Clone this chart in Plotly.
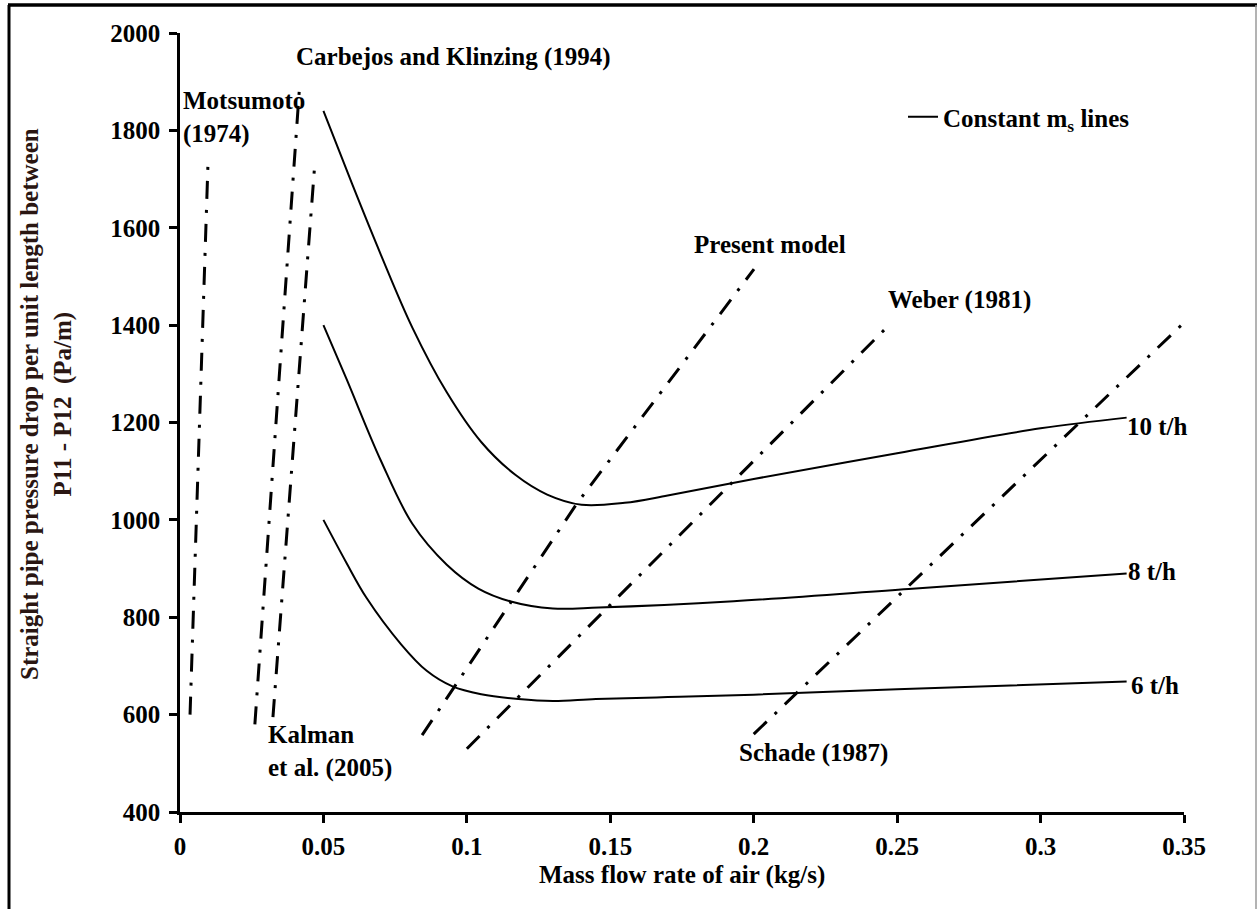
import plotly.graph_objects as go

# Constant solids-flow lines (mass flow rate of air in kg/s, pressure drop in Pa/m)
x_10th = [0.05, 0.06, 0.07, 0.081, 0.093, 0.105, 0.117, 0.128, 0.14, 0.155, 0.17, 0.2, 0.25, 0.3, 0.33]
y_10th = [1840, 1690, 1545, 1395, 1262, 1160, 1092, 1052, 1031, 1035, 1050, 1084, 1137, 1188, 1210]

x_8th = [0.05, 0.058, 0.07, 0.081, 0.093, 0.104, 0.115, 0.13, 0.146, 0.193, 0.254, 0.33]
y_8th = [1400, 1290, 1122, 992, 908, 859, 833, 818, 820, 833, 858, 890]

x_6th = [0.05, 0.058, 0.065, 0.077, 0.086, 0.095, 0.105, 0.118, 0.13, 0.145, 0.17, 0.2, 0.25, 0.33]
y_6th = [1000, 912, 840, 745, 690, 658, 642, 632, 628, 632, 636, 641, 652, 668]

# Minimum-pressure (saltation) boundaries from different models
x_motsumoto = [0.0035, 0.0098]
y_motsumoto = [600, 1740]
x_carbejos = [0.0261, 0.0418]
y_carbejos = [580, 1900]
x_kalman = [0.0324, 0.0471]
y_kalman = [595, 1740]
x_present = [0.0844, 0.1384, 0.2001]
y_present = [558, 1034, 1515]
x_weber = [0.100, 0.248]
y_weber = [530, 1405]
x_schade = [0.200, 0.350]
y_schade = [560, 1405]

x_ticks = [0, 0.05, 0.1, 0.15, 0.2, 0.25, 0.3, 0.35]
x_ticktext = ["0", "0.05", "0.1", "0.15", "0.2", "0.25", "0.3", "0.35"]
y_ticks = [400, 600, 800, 1000, 1200, 1400, 1600, 1800, 2000]

FONT = "Liberation Serif"
FS = 25
DASHDOT = "18px,11px,3px,11px"

W, H = 1257, 909
ML, MR, MT, MB = 180, 73, 33, 97
PW, PH = W - ML - MR, H - MT - MB


def px_x(px):
    return (px - ML) / PW


def px_y(py):
    return (H - MB - py) / PH


fig = go.Figure()

for xs, ys, show in [(x_10th, y_10th, True), (x_8th, y_8th, False), (x_6th, y_6th, False)]:
    fig.add_trace(go.Scatter(
        x=xs, y=ys, mode="lines",
        line=dict(color="black", width=2, shape="spline", smoothing=1.0),
        name="Constant m<sub>s</sub> lines", showlegend=show,
    ))

for xs, ys in [(x_motsumoto, y_motsumoto), (x_carbejos, y_carbejos), (x_kalman, y_kalman),
               (x_present, y_present), (x_weber, y_weber), (x_schade, y_schade)]:
    fig.add_trace(go.Scatter(
        x=xs, y=ys, mode="lines",
        line=dict(color="black", width=3, dash=DASHDOT),
        showlegend=False,
    ))

bold = dict(family=FONT, size=FS, color="black", weight="bold")

labels = [
    ("Motsumoto<br>(1974)", 0.0003, 1893, "left", "top"),
    ("Carbejos and Klinzing (1994)", 0.0955, 1951, "center", "middle"),
    ("Present model", 0.2057, 1565, "center", "middle"),
    ("Weber (1981)", 0.2716, 1452, "center", "middle"),
    ("10 t/h", 0.3293, 1191, "left", "middle"),
    ("8 t/h", 0.3299, 893, "left", "middle"),
    ("6 t/h", 0.3308, 659, "left", "middle"),
    ("Schade (1987)", 0.2210, 521, "center", "middle"),
    ("Kalman<br>et al. (2005)", 0.0300, 592, "left", "top"),
]
for text, x, y, xa, ya in labels:
    fig.add_annotation(x=x, y=y, text=text, showarrow=False, xanchor=xa, yanchor=ya,
                       align="left", font=bold)

# Axis titles
fig.add_annotation(xref="paper", yref="paper", x=px_x(682), y=px_y(875),
                   text="Mass flow rate of air (kg/s)", showarrow=False,
                   xanchor="center", yanchor="middle", font=bold)
fig.add_annotation(xref="paper", yref="paper", x=px_x(47), y=px_y(404),
                   text="Straight pipe pressure drop per unit length between<br>P11 - P12  (Pa/m)",
                   showarrow=False, textangle=-90, xanchor="center", yanchor="middle",
                   font=dict(family=FONT, size=FS, color="#2a1612", weight="bold"))

# Outer frame
fig.add_shape(type="line", xref="paper", yref="paper", x0=px_x(9), x1=px_x(9),
              y0=px_y(5), y1=px_y(912), line=dict(color="black", width=3))
fig.add_shape(type="line", xref="paper", yref="paper", x0=px_x(8), x1=px_x(1257),
              y0=px_y(5), y1=px_y(5), line=dict(color="black", width=3.5))
fig.add_shape(type="line", xref="paper", yref="paper", x0=px_x(1256), x1=px_x(1256),
              y0=px_y(5), y1=px_y(912), line=dict(color="#9a9a9a", width=1.5))

axis_common = dict(showline=True, linecolor="black", linewidth=2.5, ticks="outside",
                   ticklen=8, tickwidth=2.5, tickcolor="black", showgrid=False,
                   zeroline=False, tickfont=bold)

fig.update_xaxes(range=[0, 0.35], tickvals=x_ticks, ticktext=x_ticktext,
                 ticklabelstandoff=2, **axis_common)
fig.update_yaxes(range=[400, 2000], tickvals=y_ticks, ticklabelstandoff=4, **axis_common)

fig.update_layout(
    width=W, height=H,
    margin=dict(l=ML, r=MR, t=MT, b=MB),
    paper_bgcolor="white", plot_bgcolor="white",
    legend=dict(x=px_x(903), y=px_y(117), xanchor="left", yanchor="middle",
                font=bold, bgcolor="rgba(0,0,0,0)"),
)

fig.write_html("out.html")
